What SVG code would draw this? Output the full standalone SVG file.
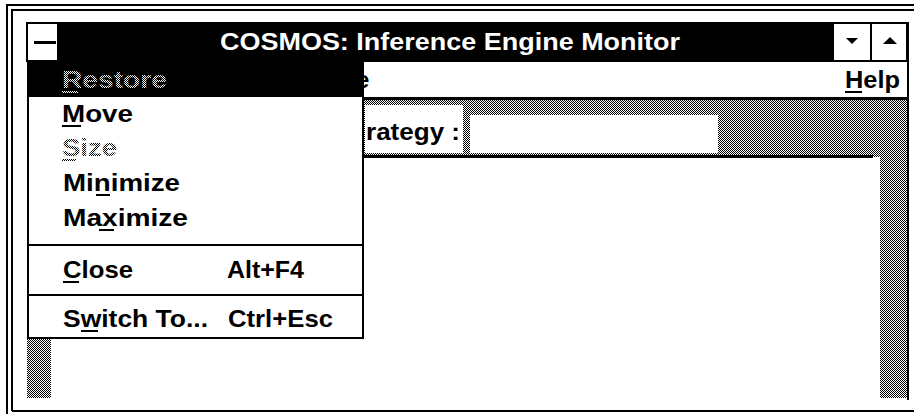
<svg xmlns="http://www.w3.org/2000/svg" width="914" height="414" viewBox="0 0 914 414">
<defs>
<pattern id="dither" width="2" height="2" patternUnits="userSpaceOnUse">
<rect width="2" height="2" fill="#fff"/>
<rect width="1" height="1" fill="#000"/>
<rect x="1" y="1" width="1" height="1" fill="#000"/>
</pattern>
<style>
text { font-family: "Liberation Sans", Arial, sans-serif; font-weight: bold; font-size: 24px; fill: #000; }
.wt { fill: #fff; }
.gt { fill: url(#dither); }
.g { fill: url(#dither); }
.k { fill: #000; }
.w { fill: #fff; }
</style>
</defs>
<rect width="914" height="414" fill="#fff"/>

<g id="frame">
<path d="M7 414 V5 H914" stroke="#000" stroke-width="2" fill="none"/>
<path d="M12 411 V10 H914" stroke="#000" stroke-width="2" fill="none"/>
<rect x="12" y="410" width="902" height="2" class="k"/>
</g>

<g id="window-edge">
<rect x="907" y="22" width="2" height="378" class="k"/>
</g>

<g id="titlebar">
<rect x="26" y="22" width="883" height="40" class="k"/>
<text x="220" y="50" class="wt" textLength="460" lengthAdjust="spacingAndGlyphs">COSMOS: Inference Engine Monitor</text>
</g>

<g id="sysmenu-button">
<rect x="28" y="24" width="29" height="36" class="w"/>
<rect x="34" y="41" width="22" height="3" class="k"/>
</g>

<g id="minimize-button">
<rect x="834" y="24" width="36" height="36" class="w"/>
<path d="M846 38 H858 L852 44 Z" class="k"/>
</g>

<g id="maximize-button">
<rect x="872" y="24" width="34" height="36" class="w"/>
<path d="M883 44 H897 L890 37 Z" class="k"/>
</g>

<g id="menubar">
<text x="356" y="88">e</text>
<text x="845" y="88" textLength="55" lengthAdjust="spacingAndGlyphs">Help</text>
<rect x="845" y="91" width="17" height="2" class="k"/>
<rect x="363" y="97" width="546" height="3" class="k"/>
</g>

<g id="toolbar">
<rect x="363" y="100" width="544" height="57" class="g"/>
<rect x="365" y="105" width="98" height="48" class="w"/>
<text x="366" y="140" textLength="94" lengthAdjust="spacingAndGlyphs">rategy :</text>
<rect id="strategy-box" x="470" y="115" width="248" height="38" class="w"/>
</g>

<g id="client">
<rect x="880" y="157" width="27" height="241" class="g"/>
<rect x="27" y="157" width="24" height="241" class="g"/>
<path d="M51 158 H872 Q880 158 880 166 V398 H51 Z" class="w"/>
<rect x="51" y="155" width="822" height="3" class="k"/>
</g>

<g id="system-menu">
<rect x="28" y="62" width="335" height="276" fill="#fff" stroke="#000" stroke-width="2"/>
<rect x="28" y="62" width="335" height="35" class="k"/>
<text x="62" y="88" class="gt" textLength="105" lengthAdjust="spacingAndGlyphs">Restore</text>
<rect x="62" y="91" width="16" height="2" class="g"/>
<text x="62" y="122" textLength="71" lengthAdjust="spacingAndGlyphs">Move</text>
<rect x="62" y="125" width="19" height="2" class="k"/>
<text x="62" y="156" class="gt" textLength="55" lengthAdjust="spacingAndGlyphs">Size</text>
<rect x="62" y="159" width="14" height="2" class="g"/>
<text x="63" y="191" textLength="117" lengthAdjust="spacingAndGlyphs">Minimize</text>
<rect x="96" y="194" width="14" height="2" class="k"/>
<text x="63" y="226" textLength="125" lengthAdjust="spacingAndGlyphs">Maximize</text>
<rect x="99" y="229" width="15" height="2" class="k"/>
<rect x="28" y="244" width="335" height="2" class="k"/>
<text x="63" y="278" textLength="70" lengthAdjust="spacingAndGlyphs">Close</text>
<rect x="63" y="281" width="16" height="2" class="k"/>
<text x="227" y="278" textLength="77" lengthAdjust="spacingAndGlyphs">Alt+F4</text>
<rect x="28" y="294" width="335" height="2" class="k"/>
<text x="63" y="327" textLength="145" lengthAdjust="spacingAndGlyphs">Switch To...</text>
<rect x="81" y="330" width="17" height="2" class="k"/>
<text x="228" y="327" textLength="105" lengthAdjust="spacingAndGlyphs">Ctrl+Esc</text>
</g>

<g id="lower-left-bar">
<rect x="27" y="342" width="24" height="56" class="g"/>
</g>
</svg>
